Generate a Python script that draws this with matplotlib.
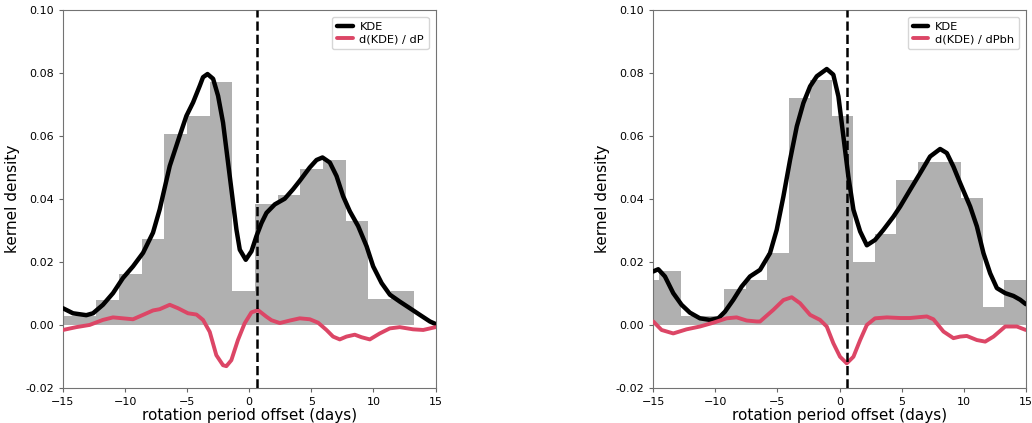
import numpy as np
import matplotlib.pyplot as plt

# ---- left panel (dP) ----
left_edges = [-15.97, -14.14, -12.31, -10.48, -8.66, -6.83, -5.01, -3.18, -1.36,
              0.47, 2.30, 4.12, 5.95, 7.77, 9.60, 11.42, 13.25]
left_hist = [0.0027, 0.0027, 0.0080, 0.0163, 0.0274, 0.0606, 0.0663, 0.0772,
             0.0109, 0.0385, 0.0413, 0.0496, 0.0523, 0.0331, 0.0082, 0.0109]

left_kde_x = [-15.0, -14.19, -13.12, -12.58, -11.78, -10.97, -10.17, -9.36, -8.55,
              -7.75, -7.21, -6.40, -5.60, -5.06, -4.52, -3.98, -3.72, -3.36, -2.91,
              -2.51, -2.11, -1.84, -1.57, -1.30, -1.03, -0.76, -0.28, 0.18, 0.58,
              0.99, 1.39, 2.06, 2.86, 3.53, 4.07, 4.87, 5.42, 5.90, 6.49, 7.03, 7.56,
              8.10, 8.77, 9.45, 9.98, 10.66, 11.33, 12.13, 12.94, 13.74, 14.55, 15.0]
left_kde_y = [0.0053, 0.0037, 0.0031, 0.0037, 0.0064, 0.0101, 0.0149, 0.0186, 0.0229,
              0.0293, 0.0367, 0.0505, 0.0601, 0.0664, 0.0707, 0.0760, 0.0787, 0.0797,
              0.0782, 0.0728, 0.0643, 0.0558, 0.0473, 0.0388, 0.0303, 0.0239, 0.0207,
              0.0234, 0.0282, 0.0324, 0.0356, 0.0383, 0.0401, 0.0431, 0.0458, 0.0500,
              0.0524, 0.0532, 0.0516, 0.0473, 0.0409, 0.0361, 0.0314, 0.0250, 0.0186,
              0.0133, 0.0096, 0.0074, 0.0053, 0.0032, 0.0011, 0.0003]

left_der_x = [-15.0, -13.93, -12.85, -11.78, -10.97, -10.17, -9.36, -8.55, -7.75,
              -7.21, -6.40, -5.73, -5.33, -4.93, -4.25, -3.72, -3.18, -2.65, -2.11,
              -1.84, -1.44, -0.91, -0.37, 0.18, 0.71, 1.39, 1.79, 2.46, 3.27, 4.07,
              4.88, 5.55, 6.22, 6.75, 7.29, 7.83, 8.50, 9.04, 9.71, 10.51, 11.32,
              12.12, 13.20, 14.01, 15.0]
left_der_y = [-0.0016, -0.0007, 0.0000, 0.0016, 0.0024, 0.0021, 0.0018, 0.0032, 0.0046,
              0.0050, 0.0064, 0.0053, 0.0045, 0.0037, 0.0033, 0.0016, -0.0022, -0.0096,
              -0.0128, -0.0131, -0.0112, -0.0048, 0.0005, 0.0040, 0.0047, 0.0026,
              0.0015, 0.0006, 0.0014, 0.0021, 0.0018, 0.0007, -0.0016, -0.0037, -0.0046,
              -0.0037, -0.0031, -0.0039, -0.0046, -0.0027, -0.0011, -0.0007, -0.0014,
              -0.0016, -0.0007]

# ---- right panel (dPbh) ----
right_edges = [-16.26, -14.52, -12.79, -11.05, -9.31, -7.57, -5.84, -4.10, -2.36,
               -0.63, 1.11, 2.85, 4.58, 6.32, 8.06, 9.80, 11.53, 13.27, 15.01]
right_hist = [0.0143, 0.0172, 0.0029, 0.0029, 0.0113, 0.0143, 0.0230, 0.0721, 0.0779,
              0.0664, 0.0200, 0.0288, 0.0461, 0.0519, 0.0519, 0.0403, 0.0057, 0.0143]

right_kde_x = [-15.0, -14.60, -14.06, -13.39, -12.72, -12.05, -11.24, -10.43, -9.76,
               -9.23, -8.55, -7.88, -7.21, -6.40, -5.60, -5.06, -4.52, -3.98, -3.44,
               -2.91, -2.37, -1.83, -1.03, -0.50, -0.09, 0.31, 0.71, 1.12, 1.66, 2.20,
               2.86, 3.53, 4.34, 4.88, 5.68, 6.49, 7.29, 8.10, 8.64, 9.17, 9.71, 10.52,
               11.06, 11.59, 12.13, 12.67, 13.34, 14.01, 14.55, 15.0]
right_kde_y = [0.0170, 0.0177, 0.0154, 0.0101, 0.0064, 0.0039, 0.0021, 0.0016, 0.0021,
               0.0042, 0.0080, 0.0122, 0.0154, 0.0175, 0.0228, 0.0302, 0.0408, 0.0525,
               0.0631, 0.0705, 0.0758, 0.0790, 0.0813, 0.0795, 0.0726, 0.0599, 0.0472,
               0.0366, 0.0297, 0.0253, 0.0270, 0.0302, 0.0344, 0.0376, 0.0429, 0.0482,
               0.0535, 0.0559, 0.0546, 0.0503, 0.0451, 0.0376, 0.0313, 0.0228, 0.0164,
               0.0117, 0.0101, 0.0092, 0.0080, 0.0066]

right_der_x = [-15.0, -14.33, -13.39, -12.32, -11.24, -10.17, -9.10, -8.29, -7.48,
               -6.67, -6.40, -5.33, -4.52, -3.85, -3.18, -2.37, -1.57, -1.03, -0.50,
               0.04, 0.58, 1.12, 1.66, 2.20, 2.86, 3.81, 4.88, 5.68, 7.03, 7.56, 8.37,
               9.17, 9.71, 10.25, 11.06, 11.73, 12.40, 13.34, 14.28, 15.0]
right_der_y = [0.0011, -0.0016, -0.0027, -0.0014, -0.0005, 0.0007, 0.0021, 0.0024,
               0.0014, 0.0011, 0.0011, 0.0048, 0.0079, 0.0088, 0.0069, 0.0032, 0.0016,
               -0.0005, -0.0058, -0.0101, -0.0122, -0.0101, -0.0048, 0.0000, 0.0021,
               0.0024, 0.0022, 0.0022, 0.0027, 0.0018, -0.0021, -0.0042, -0.0037,
               -0.0035, -0.0048, -0.0053, -0.0037, -0.0005, -0.0005, -0.0016]

offset_line = 0.6
der_color = '#dc4666'


def draw_panel(ax, edges, hist, kx, ky, dx, dy, der_label, ylabel=True):
    ax.stairs(hist, edges, fill=True, color='#b0b0b0', zorder=1)
    ax.plot(kx, ky, color='black', lw=3.2, label='KDE', zorder=3,
            solid_joinstyle='round', solid_capstyle='round')
    ax.plot(dx, dy, color=der_color, lw=2.8, label=der_label, zorder=3,
            solid_joinstyle='round', solid_capstyle='round')
    ax.axvline(offset_line, color='black', ls='--', lw=1.8, zorder=4)
    ax.set_xlim(-15, 15)
    ax.set_ylim(-0.02, 0.10)
    ax.set_xticks([-15, -10, -5, 0, 5, 10, 15])
    ax.set_yticks([-0.02, 0.0, 0.02, 0.04, 0.06, 0.08, 0.10])
    ax.yaxis.set_major_formatter(plt.FormatStrFormatter('%.2f'))
    ax.tick_params(labelsize=8, length=3, color='0.4')
    for s in ax.spines.values():
        s.set_color('0.45')
    ax.set_xlabel('rotation period offset (days)', fontsize=11, labelpad=1)
    if ylabel:
        ax.set_ylabel('kernel density', fontsize=11)
    ax.legend(loc='upper right', fontsize=8.2, handlelength=1.4, handletextpad=0.6,
              labelspacing=0.25, borderpad=0.4, borderaxespad=0.6)


fig = plt.figure(figsize=(10.32, 4.23), dpi=100)
ax1 = fig.add_axes([0.061, 0.083, 0.361, 0.893])
ax2 = fig.add_axes([0.633, 0.083, 0.361, 0.893])

draw_panel(ax1, left_edges, left_hist, left_kde_x, left_kde_y,
           left_der_x, left_der_y, 'd(KDE) / dP')
draw_panel(ax2, right_edges, right_hist, right_kde_x, right_kde_y,
           right_der_x, right_der_y, 'd(KDE) / dPbh')

fig.savefig('out.png', dpi=100)
